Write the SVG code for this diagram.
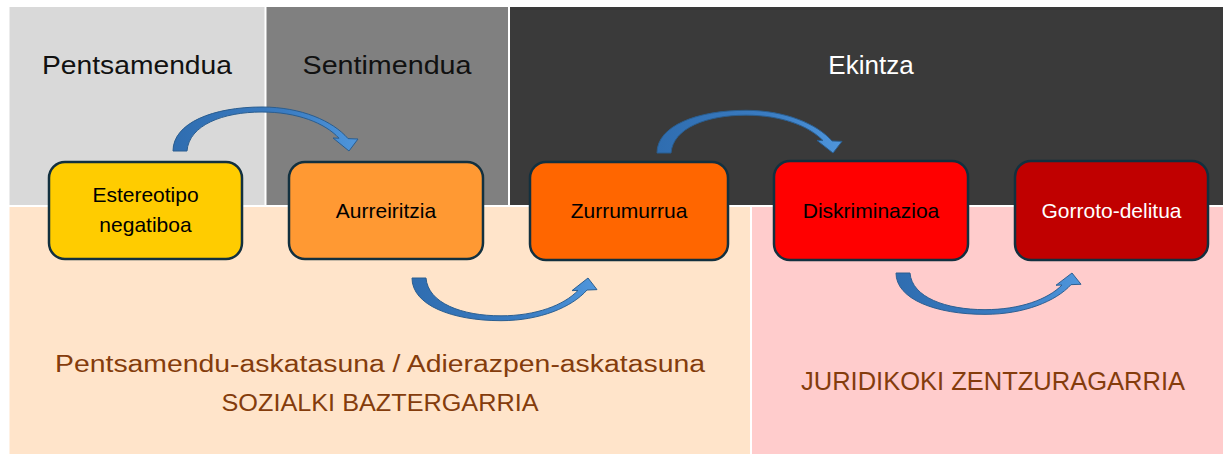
<svg xmlns="http://www.w3.org/2000/svg" xmlns:xlink="http://www.w3.org/1999/xlink" width="1223" height="454" viewBox="0 0 1223 454">
  <style>
    .hdr { font-family: "Liberation Sans", Arial, sans-serif; font-size: 26px; text-anchor: middle; }
    .node rect { stroke: #12303F; stroke-width: 2.5; }
    .ntxt { font-family: "Liberation Sans", Arial, sans-serif; font-size: 21px; text-anchor: middle; fill: #000000; }
    .btxt { font-family: "Liberation Sans", Arial, sans-serif; fill: #843C0C; text-anchor: middle; }
    .arrow { fill: url(#arrGrad); stroke: #2A5D8F; stroke-width: 1; }
  </style>
  <defs>
    <linearGradient id="arrGrad" x1="0" y1="0" x2="1" y2="0">
      <stop offset="0" stop-color="#2F6DB0"/>
      <stop offset="0.6" stop-color="#3A7CC2"/>
      <stop offset="1" stop-color="#4F96DC"/>
    </linearGradient>
    <path id="curvedArrow" d="M0,0 C0,-28 40,-44 89,-44 C128,-44 160,-30 175,-12.4 L185,-12 L176,0 L160,-13 L166,-12.8 C152,-28 124,-39 89,-39 C50,-39 16,-26 14,0 Z"/>
  </defs>

  <rect x="0" y="0" width="1223" height="454" fill="#FFFFFF"/>

  <g id="panels">
    <rect id="panel-pentsamendua" x="9.5" y="7" width="255" height="198" fill="#D9D9D9"/>
    <rect id="panel-sentimendua" x="266.5" y="7" width="241.5" height="198" fill="#808080"/>
    <rect id="panel-ekintza" x="510" y="7" width="713" height="198" fill="#3A3A3A"/>
    <rect id="panel-sozialki" x="9.5" y="207" width="740.5" height="247" fill="#FFE4CA"/>
    <rect id="panel-juridikoki" x="752" y="207" width="471" height="247" fill="#FFCCCC"/>
  </g>

  <g id="headers">
    <text class="hdr" x="137" y="74" fill="#111111" textLength="190" lengthAdjust="spacingAndGlyphs">Pentsamendua</text>
    <text class="hdr" x="387" y="74" fill="#111111" textLength="169" lengthAdjust="spacingAndGlyphs">Sentimendua</text>
    <text class="hdr" x="871" y="74" fill="#FFFFFF">Ekintza</text>
  </g>

  <g id="bottom-labels">
    <text class="btxt" x="380" y="372" font-size="23" textLength="650" lengthAdjust="spacingAndGlyphs">Pentsamendu-askatasuna / Adierazpen-askatasuna</text>
    <text class="btxt" x="380" y="411" font-size="23" textLength="317" lengthAdjust="spacingAndGlyphs">SOZIALKI BAZTERGARRIA</text>
    <text class="btxt" x="993" y="390" font-size="25" textLength="384" lengthAdjust="spacingAndGlyphs">JURIDIKOKI ZENTZURAGARRIA</text>
  </g>

  <g id="connectors">
    <use id="arrow-1-2" class="arrow" xlink:href="#curvedArrow" href="#curvedArrow" transform="translate(173,151)"/>
    <use id="arrow-2-3" class="arrow" xlink:href="#curvedArrow" href="#curvedArrow" transform="translate(412,278) scale(1,-0.97)"/>
    <use id="arrow-3-4" class="arrow" xlink:href="#curvedArrow" href="#curvedArrow" transform="translate(657,153) scale(1,0.97)"/>
    <use id="arrow-4-5" class="arrow" xlink:href="#curvedArrow" href="#curvedArrow" transform="translate(896,273) scale(1,-0.94)"/>
  </g>

  <g id="node-estereotipo" class="node">
    <rect x="49" y="162" width="193" height="97" rx="16" fill="#FFCC00"/>
    <text class="ntxt" x="145.5" y="202">Estereotipo</text>
    <text class="ntxt" x="145.5" y="232">negatiboa</text>
  </g>
  <g id="node-aurreiritzia" class="node">
    <rect x="289" y="162" width="194" height="97" rx="16" fill="#FF9933"/>
    <text class="ntxt" x="386" y="218">Aurreiritzia</text>
  </g>
  <g id="node-zurrumurrua" class="node">
    <rect x="530" y="162" width="198" height="98" rx="16" fill="#FF6600"/>
    <text class="ntxt" x="629" y="218">Zurrumurrua</text>
  </g>
  <g id="node-diskriminazioa" class="node">
    <rect x="774" y="161" width="194" height="99" rx="16" fill="#FF0000"/>
    <text class="ntxt" x="871" y="218">Diskriminazioa</text>
  </g>
  <g id="node-gorroto" class="node">
    <rect x="1015" y="161" width="193" height="99" rx="16" fill="#C00000"/>
    <text class="ntxt" x="1111.5" y="218" fill="#FFFFFF" style="fill:#FFFFFF">Gorroto-delitua</text>
  </g>
</svg>
